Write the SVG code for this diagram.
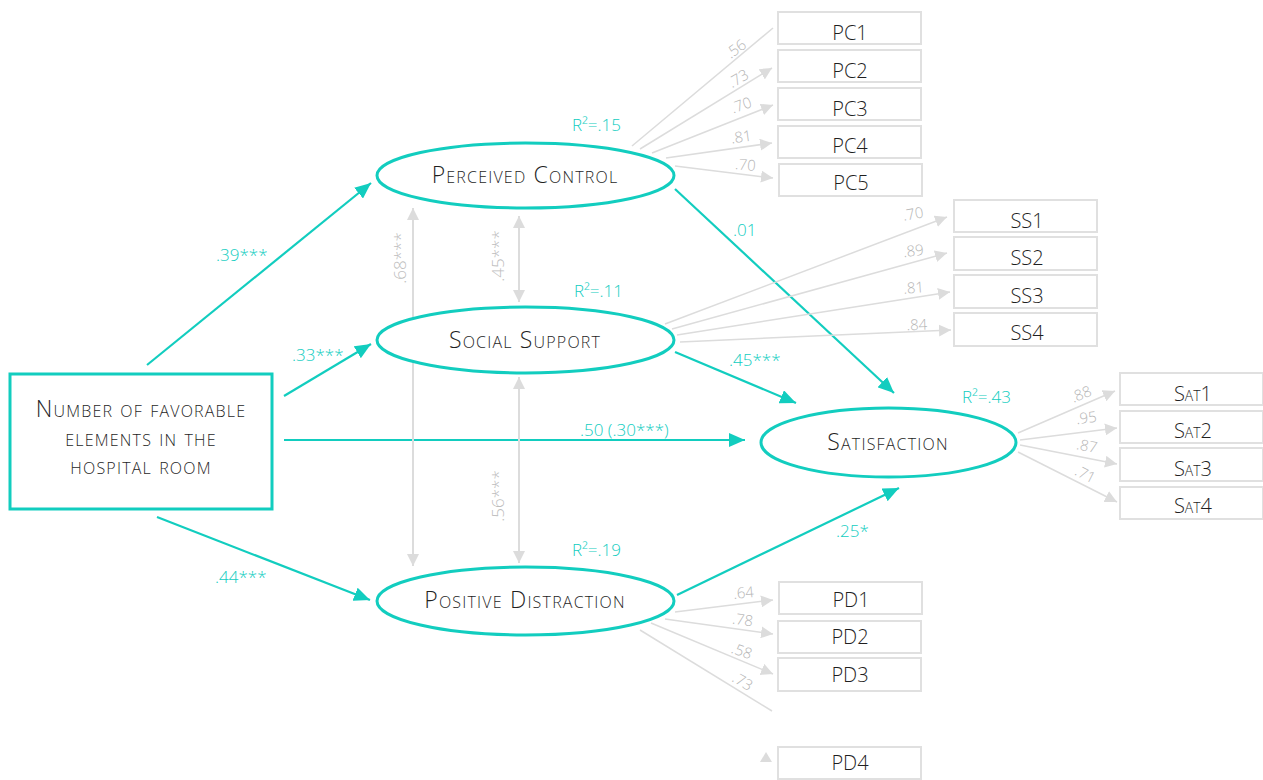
<svg xmlns="http://www.w3.org/2000/svg" width="1263" height="780" viewBox="0 0 1263 780">
  <style>
    .bg { fill: #ffffff; }
    .latent { fill: #ffffff; stroke: #12cdbf; stroke-width: 3; }
    .cause { fill: #ffffff; stroke: #12cdbf; stroke-width: 3; }
    .ind { fill: #ffffff; stroke: #e0e0e0; stroke-width: 2; }
    .name { font-family: "Open Sans", "Liberation Sans", sans-serif; font-weight: 330; font-variant: small-caps; fill: #1f1f1f; text-anchor: middle; }
    .lat { font-size: 23px; letter-spacing: 1.2px; }
    .indt { font-size: 20px; }
    .path { stroke: #12cdbf; stroke-width: 2.2; fill: none; marker-end: url(#ah-teal); }
    .load { stroke: #dcdcdc; stroke-width: 1.5; fill: none; }
    .loada { marker-end: url(#ah-gray); }
    .cov { stroke: #dcdcdc; stroke-width: 2; fill: none; marker-start: url(#ah-gray); marker-end: url(#ah-gray); }
    .coef { font-family: "Open Sans", "Liberation Sans", sans-serif; font-weight: 350; font-size: 17px; fill: #12cdbf; }
    .gl { font-family: "Open Sans", "Liberation Sans", sans-serif; font-weight: 350; font-size: 15px; fill: #b5b5b5; text-anchor: middle; }
    .gv { font-family: "Open Sans", "Liberation Sans", sans-serif; font-weight: 350; font-size: 17px; fill: #bdbdbd; text-anchor: middle; }
  </style>
  <defs>
    <marker id="ah-teal" viewBox="0 0 16 14" refX="16" refY="7" markerWidth="16" markerHeight="14" orient="auto" markerUnits="userSpaceOnUse">
      <path d="M0,0 L16,7 L0,14 z" fill="#12cdbf"/>
    </marker>
    <marker id="ah-gray" viewBox="0 0 12 12" refX="12" refY="6" markerWidth="12" markerHeight="12" orient="auto-start-reverse" markerUnits="userSpaceOnUse">
      <path d="M0,0 L12,6 L0,12 z" fill="#dcdcdc"/>
    </marker>
  </defs>
  <rect class="bg" x="0" y="0" width="1263" height="780"/>

  <!-- connectors -->
  <g id="connectors">
    <!-- structural paths -->
    <line class="path" x1="147" y1="365" x2="371" y2="183"/>
    <line class="path" x1="284" y1="396" x2="371" y2="344"/>
    <line class="path" x1="157" y1="517" x2="370" y2="600"/>
    <line class="path" x1="284" y1="440" x2="745" y2="440"/>
    <line class="path" x1="675" y1="352" x2="796" y2="403"/>
    <line class="path" x1="675" y1="189" x2="894" y2="393"/>
    <line class="path" x1="677" y1="595" x2="899" y2="488"/>

    <!-- covariances -->
    <line class="cov" x1="413" y1="208" x2="413" y2="566"/>
    <line class="cov" x1="519" y1="216" x2="519" y2="302"/>
    <line class="cov" x1="519" y1="377" x2="519" y2="563"/>

    <!-- perceived control loadings -->
    <line class="load" x1="632" y1="146" x2="773" y2="28"/>
    <line class="load loada" x1="640" y1="149" x2="772" y2="68"/>
    <line class="load loada" x1="652" y1="153" x2="773" y2="105"/>
    <line class="load loada" x1="666" y1="158" x2="772" y2="143"/>
    <line class="load loada" x1="675" y1="166" x2="773" y2="178"/>

    <!-- social support loadings -->
    <line class="load loada" x1="665" y1="324" x2="947" y2="217"/>
    <line class="load loada" x1="672" y1="329" x2="947" y2="253"/>
    <line class="load loada" x1="677" y1="335" x2="950" y2="292"/>
    <line class="load loada" x1="680" y1="342" x2="951" y2="330"/>

    <!-- satisfaction loadings -->
    <line class="load loada" x1="1018" y1="433" x2="1115" y2="391"/>
    <line class="load loada" x1="1020" y1="440" x2="1117" y2="428"/>
    <line class="load loada" x1="1020" y1="445" x2="1117" y2="464"/>
    <line class="load loada" x1="1018" y1="452" x2="1117" y2="502"/>

    <!-- positive distraction loadings -->
    <line class="load loada" x1="675" y1="612" x2="773" y2="600"/>
    <line class="load loada" x1="665" y1="619" x2="773" y2="634"/>
    <line class="load loada" x1="651" y1="623" x2="773" y2="674"/>
    <line class="load" x1="640" y1="630" x2="772" y2="711"/>
    <path d="M760,762 L766,752 L772,762 z" fill="#dcdcdc"/>

    <!-- path coefficients -->
    <text class="coef" x="216" y="261">.39***</text>
    <text class="coef" x="292" y="361">.33***</text>
    <text class="coef" x="215" y="583">.44***</text>
    <text class="coef" x="580" y="436">.50 (.30***)</text>
    <text class="coef" x="729" y="366">.45***</text>
    <text class="coef" x="733" y="236">.01</text>
    <text class="coef" x="836" y="537">.25*</text>

    <!-- covariance values -->
    <text class="gv" transform="translate(406,258) rotate(-90)">.68***</text>
    <text class="gv" transform="translate(504,256) rotate(-90)">.45***</text>
    <text class="gv" transform="translate(504,496) rotate(-90)">.56***</text>

    <!-- loading values -->
    <text class="gl" transform="translate(739,53) rotate(-36)">.56</text>
    <text class="gl" transform="translate(741,83) rotate(-30)">.73</text>
    <text class="gl" transform="translate(743,110) rotate(-20)">.70</text>
    <text class="gl" transform="translate(742,142) rotate(-8)">.81</text>
    <text class="gl" transform="translate(745,170) rotate(5)">.70</text>

    <text class="gl" transform="translate(914,219) rotate(-10)">.70</text>
    <text class="gl" transform="translate(914,256) rotate(-7)">.89</text>
    <text class="gl" transform="translate(914,293) rotate(-4)">.81</text>
    <text class="gl" transform="translate(917,330) rotate(-2)">.84</text>

    <text class="gl" transform="translate(1083,399) rotate(-22)">.88</text>
    <text class="gl" transform="translate(1087,423) rotate(-7)">.95</text>
    <text class="gl" transform="translate(1086,451) rotate(11)">.87</text>
    <text class="gl" transform="translate(1083,479) rotate(27)">.71</text>

    <text class="gl" transform="translate(744,598) rotate(-5)">.64</text>
    <text class="gl" transform="translate(742,625) rotate(8)">.78</text>
    <text class="gl" transform="translate(740,656) rotate(20)">.58</text>
    <text class="gl" transform="translate(740,686) rotate(30)">.73</text>

    <!-- explained variance -->
    <text class="coef" x="572" y="131">R²=.15</text>
    <text class="coef" x="574" y="297">R²=.11</text>
    <text class="coef" x="572" y="556">R²=.19</text>
    <text class="coef" x="962" y="403">R²=.43</text>
  </g>

  <!-- exogenous variable -->
  <g id="node-elements">
    <rect class="cause" x="10" y="374" width="262" height="135"/>
    <text class="name lat" x="141" y="417">Number of favorable</text>
    <text class="name lat" x="141" y="446">elements in the</text>
    <text class="name lat" x="141" y="474">hospital room</text>
  </g>

  <!-- latent variables -->
  <g id="node-pc">
    <ellipse class="latent" cx="525.5" cy="175.5" rx="148.5" ry="32.5"/>
    <text class="name lat" x="525" y="183">Perceived Control</text>
  </g>
  <g id="node-ss">
    <ellipse class="latent" cx="525.5" cy="340" rx="148.5" ry="33"/>
    <text class="name lat" x="525" y="348">Social Support</text>
  </g>
  <g id="node-pd">
    <ellipse class="latent" cx="525.5" cy="601" rx="148.5" ry="34"/>
    <text class="name lat" x="525" y="608">Positive Distraction</text>
  </g>
  <g id="node-sat">
    <ellipse class="latent" cx="888.5" cy="442.5" rx="127.5" ry="34.5"/>
    <text class="name lat" x="888" y="450">Satisfaction</text>
  </g>

  <!-- indicators -->
  <g id="node-pc1"><rect class="ind" x="778" y="12" width="143" height="32"/><text class="name indt" x="850" y="40">PC1</text></g>
  <g id="node-pc2"><rect class="ind" x="778" y="50" width="143" height="32"/><text class="name indt" x="850" y="78">PC2</text></g>
  <g id="node-pc3"><rect class="ind" x="778" y="88" width="143" height="32"/><text class="name indt" x="850" y="116">PC3</text></g>
  <g id="node-pc4"><rect class="ind" x="778" y="126" width="143" height="32"/><text class="name indt" x="850" y="153">PC4</text></g>
  <g id="node-pc5"><rect class="ind" x="779" y="164" width="143" height="32"/><text class="name indt" x="851" y="190">PC5</text></g>

  <g id="node-ss1"><rect class="ind" x="954" y="200" width="143" height="32"/><text class="name indt" x="1027" y="228">SS1</text></g>
  <g id="node-ss2"><rect class="ind" x="954" y="237" width="143" height="33"/><text class="name indt" x="1027" y="265">SS2</text></g>
  <g id="node-ss3"><rect class="ind" x="954" y="275" width="143" height="33"/><text class="name indt" x="1027" y="303">SS3</text></g>
  <g id="node-ss4"><rect class="ind" x="954" y="313" width="143" height="33"/><text class="name indt" x="1027" y="340">SS4</text></g>

  <g id="node-sat1"><rect class="ind" x="1120" y="373" width="143" height="32"/><text class="name indt" x="1193" y="401">Sat1</text></g>
  <g id="node-sat2"><rect class="ind" x="1120" y="411" width="143" height="32"/><text class="name indt" x="1193" y="438">Sat2</text></g>
  <g id="node-sat3"><rect class="ind" x="1120" y="448" width="143" height="33"/><text class="name indt" x="1193" y="476">Sat3</text></g>
  <g id="node-sat4"><rect class="ind" x="1120" y="487" width="143" height="32"/><text class="name indt" x="1193" y="513">Sat4</text></g>

  <g id="node-pd1"><rect class="ind" x="779" y="582" width="143" height="32"/><text class="name indt" x="851" y="607">PD1</text></g>
  <g id="node-pd2"><rect class="ind" x="778" y="621" width="143" height="32"/><text class="name indt" x="850" y="644">PD2</text></g>
  <g id="node-pd3"><rect class="ind" x="778" y="658" width="143" height="33"/><text class="name indt" x="850" y="682">PD3</text></g>
  <g id="node-pd4"><rect class="ind" x="778" y="747" width="143" height="32"/><text class="name indt" x="850" y="770">PD4</text></g>
</svg>
